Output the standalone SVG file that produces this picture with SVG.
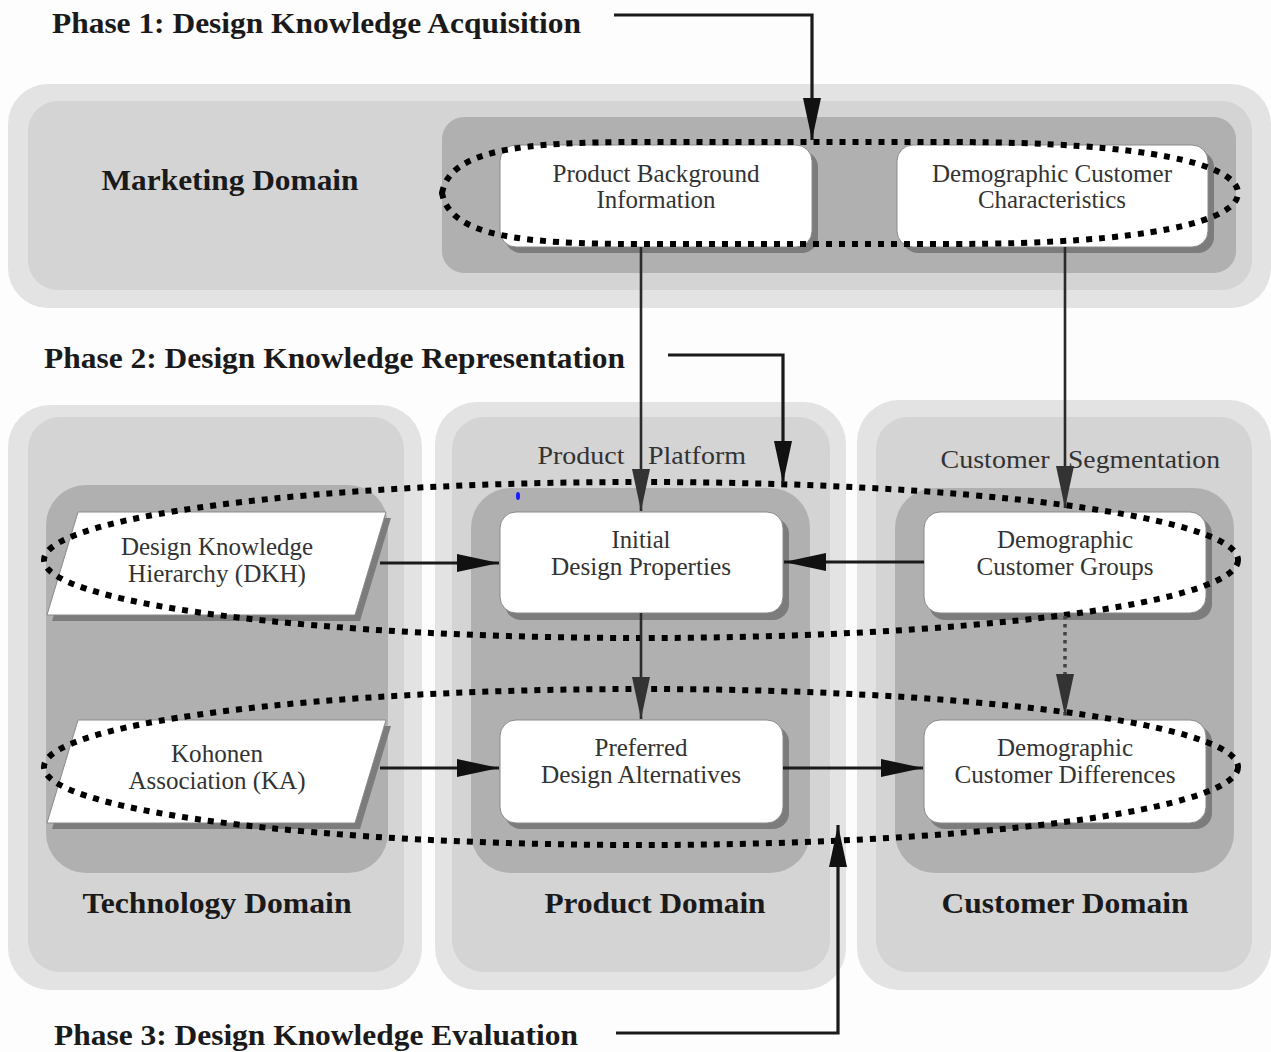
<svg xmlns="http://www.w3.org/2000/svg" width="1271" height="1052" viewBox="0 0 1271 1052">
<style>
.outer{fill:#e3e3e3}
.inner{fill:#d4d4d4}
.dark{fill:#b0b0b0}
.shadow{fill:#7c7c7c}
.box{fill:#ffffff;stroke:#8a8a8a;stroke-width:1}
.t{font-family:"Liberation Serif","Times New Roman",serif;font-size:25px;fill:#333333;text-anchor:middle}
.b{font-family:"Liberation Serif","Times New Roman",serif;font-size:30px;font-weight:bold;fill:#1a1a1a}
.bc{text-anchor:middle}
.dots{fill:none;stroke:#000000;stroke-width:6;stroke-dasharray:6 7}
.line{fill:none;stroke:#1a1a1a;stroke-width:3.2}
.thin{fill:none;stroke:#2a2a2a;stroke-width:2.6}
.dotline{fill:none;stroke:#444444;stroke-width:3.5;stroke-dasharray:3.5 4.5}
</style>
<defs>
<marker id="ah" viewBox="0 0 42 18" refX="42" refY="9" markerWidth="42" markerHeight="18" markerUnits="userSpaceOnUse" orient="auto">
<path d="M0,0 L42,9 L0,18 Z" fill="#111111"/>
</marker>
<marker id="ahg" viewBox="0 0 42 18" refX="42" refY="9" markerWidth="42" markerHeight="18" markerUnits="userSpaceOnUse" orient="auto">
<path d="M0,0 L42,9 L0,18 Z" fill="#333333"/>
</marker>
</defs>
<rect width="1271" height="1052" fill="#fdfdfd"/>

<g id="marketing-domain">
<rect class="outer" x="8" y="84" width="1263" height="224" rx="40"/>
<rect class="inner" x="28" y="101" width="1224" height="189" rx="30"/>
<rect class="dark" x="442" y="117" width="794" height="156" rx="22"/>
<text class="b bc" x="230" y="190" textLength="257" lengthAdjust="spacingAndGlyphs">Marketing Domain</text>
</g>

<g id="technology-domain">
<rect class="outer" x="8" y="405" width="414" height="585" rx="42"/>
<rect class="inner" x="28" y="417" width="376" height="555" rx="32"/>
<rect class="dark" x="46" y="485" width="342" height="388" rx="40"/>
<text class="b bc" x="217" y="913" textLength="269" lengthAdjust="spacingAndGlyphs">Technology Domain</text>
</g>

<g id="product-domain">
<rect class="outer" x="435" y="402" width="411" height="588" rx="42"/>
<rect class="inner" x="452" y="417" width="378" height="555" rx="32"/>
<rect class="dark" x="471" y="488" width="339" height="385" rx="40"/>
<text class="b bc" x="655" y="913" textLength="221" lengthAdjust="spacingAndGlyphs">Product Domain</text>
<text class="t" x="581" y="464" textLength="87" lengthAdjust="spacingAndGlyphs">Product</text>
<text class="t" x="697" y="464" textLength="98" lengthAdjust="spacingAndGlyphs">Platform</text>
</g>

<g id="customer-domain">
<rect class="outer" x="857" y="400" width="414" height="590" rx="42"/>
<rect class="inner" x="876" y="417" width="376" height="555" rx="32"/>
<rect class="dark" x="895" y="488" width="339" height="385" rx="40"/>
<text class="b bc" x="1065" y="913" textLength="247" lengthAdjust="spacingAndGlyphs">Customer Domain</text>
<text class="t" x="995" y="468" textLength="109" lengthAdjust="spacingAndGlyphs">Customer</text>
<text class="t" x="1144" y="468" textLength="152" lengthAdjust="spacingAndGlyphs">Segmentation</text>
</g>

<g id="product-background">
<rect class="shadow" x="505" y="151" width="313" height="102" rx="16"/>
<rect class="box" x="500" y="145" width="312" height="102" rx="16"/>
<text class="t" x="656" y="182" textLength="207" lengthAdjust="spacingAndGlyphs">Product Background</text>
<text class="t" x="656" y="208" textLength="119" lengthAdjust="spacingAndGlyphs">Information</text>
</g>

<g id="demographic-characteristics">
<rect class="shadow" x="902" y="151" width="312" height="102" rx="16"/>
<rect class="box" x="897" y="145" width="311" height="102" rx="16"/>
<text class="t" x="1052" y="182" textLength="240" lengthAdjust="spacingAndGlyphs">Demographic Customer</text>
<text class="t" x="1052" y="208" textLength="148" lengthAdjust="spacingAndGlyphs">Characteristics</text>
</g>

<g id="dkh">
<polygon class="shadow" points="83,518 391,518 360,621 52,621"/>
<polygon class="box" points="78,512 386,512 355,615 47,615"/>
<text class="t" x="217" y="555" textLength="192" lengthAdjust="spacingAndGlyphs">Design Knowledge</text>
<text class="t" x="217" y="582" textLength="178" lengthAdjust="spacingAndGlyphs">Hierarchy (DKH)</text>
</g>

<g id="ka">
<polygon class="shadow" points="83,726 391,726 360,829 52,829"/>
<polygon class="box" points="78,720 386,720 355,823 47,823"/>
<text class="t" x="217" y="762" textLength="92" lengthAdjust="spacingAndGlyphs">Kohonen</text>
<text class="t" x="217" y="789" textLength="177" lengthAdjust="spacingAndGlyphs">Association (KA)</text>
</g>

<g id="initial-design">
<rect class="shadow" x="505" y="518" width="284" height="102" rx="16"/>
<rect class="box" x="500" y="512" width="283" height="101" rx="16"/>
<text class="t" x="641" y="548" textLength="59" lengthAdjust="spacingAndGlyphs">Initial</text>
<text class="t" x="641" y="575" textLength="180" lengthAdjust="spacingAndGlyphs">Design Properties</text>
</g>

<g id="preferred-design">
<rect class="shadow" x="505" y="726" width="284" height="103" rx="16"/>
<rect class="box" x="500" y="720" width="283" height="103" rx="16"/>
<text class="t" x="641" y="756" textLength="93" lengthAdjust="spacingAndGlyphs">Preferred</text>
<text class="t" x="641" y="783" textLength="200" lengthAdjust="spacingAndGlyphs">Design Alternatives</text>
</g>

<g id="customer-groups">
<rect class="shadow" x="929" y="518" width="283" height="102" rx="16"/>
<rect class="box" x="924" y="512" width="282" height="101" rx="16"/>
<text class="t" x="1065" y="548" textLength="136" lengthAdjust="spacingAndGlyphs">Demographic</text>
<text class="t" x="1065" y="575" textLength="177" lengthAdjust="spacingAndGlyphs">Customer Groups</text>
</g>

<g id="customer-differences">
<rect class="shadow" x="929" y="726" width="283" height="103" rx="16"/>
<rect class="box" x="924" y="720" width="282" height="103" rx="16"/>
<text class="t" x="1065" y="756" textLength="136" lengthAdjust="spacingAndGlyphs">Demographic</text>
<text class="t" x="1065" y="783" textLength="221" lengthAdjust="spacingAndGlyphs">Customer Differences</text>
</g>

<g id="groupings">
<path class="dots" d="M442,193 C450,150 520,142 640,142 L950,142 C1150,142 1238,165 1238,193 C1238,221 1150,244 950,244 L640,244 C520,244 450,236 442,193 Z"/>
<ellipse class="dots" cx="641" cy="560" rx="597" ry="78"/>
<ellipse class="dots" cx="641" cy="767" rx="597" ry="78"/>
</g>

<g id="phase-labels">
<text class="b" x="52" y="33" textLength="529" lengthAdjust="spacingAndGlyphs">Phase 1: Design Knowledge Acquisition</text>
<text class="b" x="44" y="368" textLength="581" lengthAdjust="spacingAndGlyphs">Phase 2: Design Knowledge Representation</text>
<text class="b" x="54" y="1045" textLength="524" lengthAdjust="spacingAndGlyphs">Phase 3: Design Knowledge Evaluation</text>
</g>

<g id="connectors">
<path class="line" d="M614,15 L812,15 L812,140" marker-end="url(#ah)"/>
<path class="line" d="M668,355 L783,355 L783,483" marker-end="url(#ah)"/>
<path class="line" d="M616,1033 L838,1033 L838,825" marker-end="url(#ah)"/>
<path class="thin" d="M641,247 L641,511" marker-end="url(#ahg)"/>
<path class="thin" d="M1065,247 L1065,508" marker-end="url(#ahg)"/>
<path class="line" d="M380,563 L499,563" marker-end="url(#ah)"/>
<path class="line" d="M380,768 L499,768" marker-end="url(#ah)"/>
<path class="line" d="M924,562 L784,562" marker-end="url(#ah)"/>
<path class="thin" d="M641,613 L641,719" marker-end="url(#ahg)"/>
<path class="dotline" d="M1065,616 L1065,716" marker-end="url(#ahg)"/>
<path class="line" d="M783,768 L923,768" marker-end="url(#ah)"/>
</g>
<ellipse cx="518" cy="496" rx="2" ry="4" fill="#1a1aff"/>
</svg>
